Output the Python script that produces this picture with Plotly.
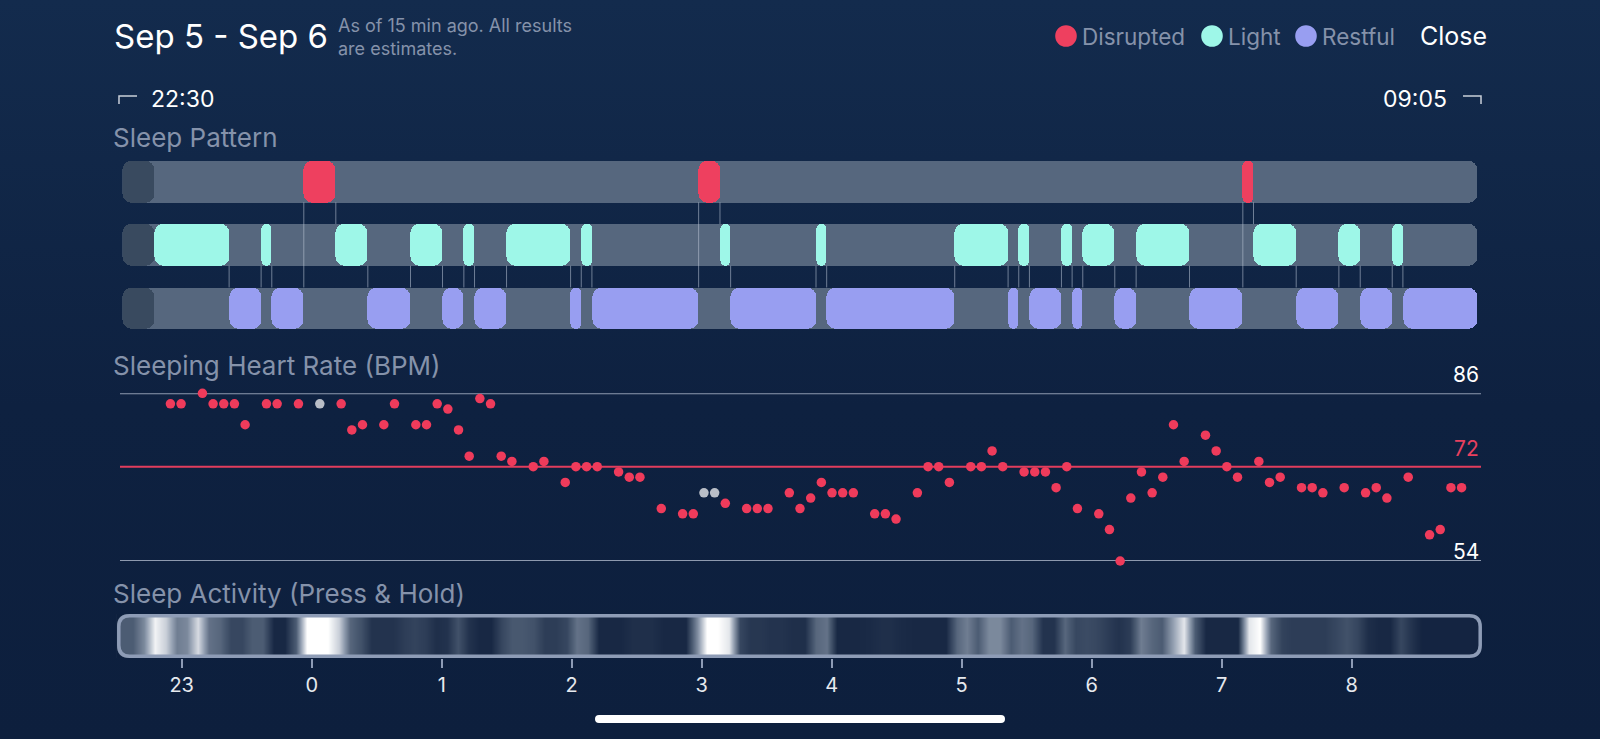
import base64
import plotly.graph_objects as go

W, H = 1600, 739

# ---------------- data ----------------
night_start = "22:30"
night_end = "09:05"

stage_starts = ["22:45", "23:20", "23:35", "23:40", "23:55", "00:10", "00:25", "00:45",
                "01:00", "01:10", "01:15", "01:30", "02:00", "02:05", "02:10", "03:00",
                "03:10", "03:15", "03:55", "04:00", "05:00", "05:25", "05:30", "05:35",
                "05:50", "05:55", "06:00", "06:15", "06:25", "06:50", "07:15", "07:20",
                "07:40", "08:00", "08:10", "08:25", "08:30"]
stage_names = ["Light", "Restful", "Light", "Restful", "Disrupted", "Light", "Restful", "Light",
               "Restful", "Light", "Restful", "Light", "Restful", "Light", "Restful", "Disrupted",
               "Light", "Restful", "Light", "Restful", "Light", "Restful", "Light", "Restful",
               "Light", "Restful", "Light", "Restful", "Light", "Restful", "Disrupted", "Light",
               "Restful", "Light", "Restful", "Light", "Restful"]

stage_order = ["Disrupted", "Light", "Restful"]
stage_colors = {"Disrupted": "#ee405f", "Light": "#9ef7e8", "Restful": "#989ef1"}
stage_rows = {"Disrupted": 2, "Light": 1, "Restful": 0}

# sleeping heart rate, one value per 5-minute bin (None = no reading)
hr_first_bin = "22:50"
hr_bin_minutes = 5
hr_bpm = [84, 84, None, 86, 84, 84, 84, 80, None, 84,
          84, None, 84, None, 84, None, 84, 79, 80, None,
          80, 84, None, 80, 80, 84, 83, 79, 74, 85,
          84, 74, 73, None, 72, 73, None, 69, 72, 72,
          72, None, 71, 70, 70, None, 64, None, 63, 63,
          67, 67, 65, None, 64, 64, 64, None, 67, 64,
          66, 69, 67, 67, 67, None, 63, 63, 62, None,
          67, 72, 72, 69, None, 72, 72, 75, 72, None,
          71, 71, 71, 68, 72, 64, None, 63, 60, 54,
          66, 71, 67, 70, 80, 73, None, 78, 75, 72,
          70, None, 73, 69, 70, None, 68, 68, 67, None,
          68, None, 67, 68, 66, None, 70, None, 59, 60,
          68, 68]
hr_gray_bins = [14, 50, 51]
hr_ref_lines = [86, 72, 54]

# sleep activity intensity (0..1), one value per 5-minute bin
activity_start = "22:30"
activity_bin_minutes = 5
activity_level = [0.30, 0.30, 0.50, 0.95, 0.80, 0.45, 0.50, 0.85, 0.40, 0.35,
                  0.20, 0.20, 0.30, 0.30, 0.05, 0.05, 0.30, 1.00, 1.00, 1.00,
                  0.80, 0.35, 0.25, 0.10, 0.10, 0.10, 0.15, 0.18, 0.15, 0.08,
                  0.10, 0.25, 0.10, 0.05, 0.05, 0.20, 0.28, 0.28, 0.25, 0.15,
                  0.15, 0.20, 0.40, 0.35, 0.05, 0.05, 0.05, 0.08, 0.08, 0.08,
                  0.05, 0.05, 0.05, 0.50, 1.00, 1.00, 0.90, 0.20, 0.12, 0.12,
                  0.10, 0.10, 0.08, 0.08, 0.35, 0.40, 0.05, 0.05, 0.05, 0.06,
                  0.08, 0.08, 0.06, 0.05, 0.05, 0.05, 0.05, 0.35, 0.45, 0.30,
                  0.50, 0.50, 0.30, 0.40, 0.35, 0.10, 0.10, 0.35, 0.20, 0.22,
                  0.20, 0.15, 0.10, 0.15, 0.45, 0.35, 0.30, 0.60, 0.90, 0.30,
                  0.05, 0.05, 0.05, 0.05, 0.90, 1.00, 0.35, 0.18, 0.15, 0.15,
                  0.15, 0.15, 0.20, 0.25, 0.20, 0.08, 0.05, 0.05, 0.20, 0.10,
                  0.03, 0.03, 0.03, 0.03, 0.03, 0.03]
activity_end = "09:00"

hour_ticks = [-1, 0, 1, 2, 3, 4, 5, 6, 7, 8]
hour_labels = ["23", "0", "1", "2", "3", "4", "5", "6", "7", "8"]

# ---------------- helpers ----------------
BG_TOP, BG_MID, BG_BOT = "#132b4d", "#0e2140", "#0d1f3d"
GREY_TXT = "#8592aa"
FONT = "Inter, Roboto, Liberation Sans, sans-serif"


def to_hours(hhmm):
    h, m = map(int, hhmm.split(":"))
    v = h + m / 60
    return v - 24 if h >= 12 else v


def fx(x):
    return x / W


def fy(y):
    return 1 - y / H


def P(x, y):
    return f"{fx(x):.5f},{fy(y):.5f}"


def rounded_rect(x0, y0, x1, y1, r):
    return (f"M {P(x0 + r, y0)} L {P(x1 - r, y0)} Q {P(x1, y0)} {P(x1, y0 + r)} "
            f"L {P(x1, y1 - r)} Q {P(x1, y1)} {P(x1 - r, y1)} L {P(x0 + r, y1)} "
            f"Q {P(x0, y1)} {P(x0, y1 - r)} L {P(x0, y0 + r)} Q {P(x0, y0)} {P(x0 + r, y0)} Z")


BAR_W = 0.658
RADIUS = 9

fig = go.Figure()


def add_pill_bars(starts, ends, rows, color):
    # bars with an explicit base get both ends rounded
    fig.add_trace(go.Bar(orientation="h", y=rows, base=starts,
                         x=[b - a for a, b in zip(starts, ends)], width=BAR_W,
                         marker=dict(color=color, line=dict(width=0), cornerradius=RADIUS),
                         hoverinfo="skip", showlegend=False, xaxis="x", yaxis="y"))


t_start = to_hours(night_start)
t_end = to_hours(night_end)
seg_start = [to_hours(s) for s in stage_starts]
seg_end = seg_start[1:] + [t_end]

# track backgrounds + dark lead-in cap before the first stage
rows_all = [stage_rows[s] for s in stage_order]
add_pill_bars([t_start] * 3, [t_end] * 3, rows_all, "#56677e")
add_pill_bars([t_start] * 3, [seg_start[0]] * 3, rows_all, "#394a5f")

# stage segments
for name in stage_order:
    idx = [i for i, s in enumerate(stage_names) if s == name]
    add_pill_bars([seg_start[i] for i in idx], [seg_end[i] for i in idx],
                  [stage_rows[name]] * len(idx), stage_colors[name])

# connector lines at every stage change
cx, cy = [], []
for i in range(1, len(stage_names)):
    a, b = stage_rows[stage_names[i - 1]], stage_rows[stage_names[i]]
    hi, lo = max(a, b), min(a, b)
    cx += [seg_start[i], seg_start[i], None]
    cy += [hi - BAR_W / 2, lo + BAR_W / 2, None]
fig.add_trace(go.Scatter(x=cx, y=cy, mode="lines", line=dict(color="rgba(190,200,216,0.55)", width=1),
                         hoverinfo="skip", showlegend=False, xaxis="x", yaxis="y"))

# heart rate
hr0 = to_hours(hr_first_bin)
hr_x = [hr0 + (i * hr_bin_minutes + hr_bin_minutes / 2) / 60 for i in range(len(hr_bpm))]
red_x = [x for i, (x, v) in enumerate(zip(hr_x, hr_bpm)) if v is not None and i not in hr_gray_bins]
red_y = [v for i, v in enumerate(hr_bpm) if v is not None and i not in hr_gray_bins]
gray_x = [hr_x[i] for i in hr_gray_bins]
gray_y = [hr_bpm[i] for i in hr_gray_bins]
fig.add_trace(go.Scatter(x=red_x, y=red_y, mode="markers", marker=dict(color="#ef3b5b", size=9.5),
                         cliponaxis=False, hoverinfo="skip", showlegend=False, xaxis="x", yaxis="y2"))
fig.add_trace(go.Scatter(x=gray_x, y=gray_y, mode="markers", marker=dict(color="#b9bec7", size=9.5),
                         cliponaxis=False, hoverinfo="skip", showlegend=False, xaxis="x", yaxis="y2"))

# sleep activity strip
a0 = to_hours(activity_start)
act_x = [a0 + (i * activity_bin_minutes + activity_bin_minutes / 2) / 60 for i in range(len(activity_level))]
fig.add_trace(go.Heatmap(x=act_x, y=[0, 1], z=[activity_level, activity_level], zmin=0, zmax=1,
                         zsmooth="best", showscale=False, hoverinfo="skip",
                         colorscale=[[0, "#0e1e3b"], [0.3, "#4c5c73"], [0.6, "#939fb1"], [1, "#ffffff"]],
                         xaxis="x2", yaxis="y3"))

# ---------------- layout ----------------
svg = (f'<svg xmlns="http://www.w3.org/2000/svg" width="{W}" height="{H}">'
       '<defs><linearGradient id="g" x1="0" y1="0" x2="0" y2="1">'
       f'<stop offset="0" stop-color="{BG_TOP}"/><stop offset="0.55" stop-color="{BG_MID}"/>'
       f'<stop offset="1" stop-color="{BG_BOT}"/></linearGradient></defs>'
       f'<rect width="{W}" height="{H}" fill="url(#g)"/></svg>')
bg_src = "data:image/svg+xml;base64," + base64.b64encode(svg.encode()).decode()

annotations = []


def text(x, y, s, size, color, anchor="left", **kw):
    annotations.append(dict(x=fx(x), y=fy(y), xref="paper", yref="paper", text=s, showarrow=False,
                            xanchor=anchor, yanchor="middle", align="left",
                            font=dict(family=FONT, size=size, color=color), **kw))


text(112, 36, "Sep 5 - Sep 6", 33, "#ffffff")
text(336, 37, "As of 15 min ago. All results<br>are estimates.", 18, GREY_TXT)
legend_pos = [(1066, 1080), (1212, 1226), (1306, 1320)]
for name, (cxp, tx) in zip(stage_order, legend_pos):
    text(tx, 36, name, 22.5, GREY_TXT)
text(1489, 36, "Close", 25, "#ffffff", anchor="right")
text(149, 99, night_start, 23, "#ffffff")
text(1449, 99, night_end, 23, "#ffffff", anchor="right")
text(111, 137, "Sleep Pattern", 26, GREY_TXT)
text(111, 365, "Sleeping Heart Rate (BPM)", 26, GREY_TXT)
text(111, 593, "Sleep Activity (Press & Hold)", 26, GREY_TXT)

for val, shift in zip(hr_ref_lines, [19, 18, 10]):
    annotations.append(dict(x=fx(1481), y=val, xref="paper", yref="y2", text=str(val), showarrow=False,
                            xanchor="right", yanchor="middle", yshift=shift,
                            font=dict(family=FONT, size=21,
                                      color="#e8405f" if val == 72 else "#ffffff")))

shapes = []
for name, (cxp, tx) in zip(stage_order, legend_pos):
    shapes.append(dict(type="circle", xref="paper", yref="paper", x0=fx(cxp - 10.8), x1=fx(cxp + 10.8),
                       y0=fy(36 - 10.8), y1=fy(36 + 10.8), fillcolor=stage_colors[name], line=dict(width=0)))
# time brackets
shapes.append(dict(type="path", xref="paper", yref="paper", path=f"M {P(119, 104)} L {P(119, 96)} L {P(137, 96)}",
                   line=dict(color="#c9cfd9", width=1.5)))
shapes.append(dict(type="path", xref="paper", yref="paper", path=f"M {P(1463, 96)} L {P(1481, 96)} L {P(1481, 104)}",
                   line=dict(color="#c9cfd9", width=1.5)))
# heart-rate reference lines
for val in hr_ref_lines:
    shapes.append(dict(type="line", xref="paper", yref="y2", x0=fx(120), x1=fx(1481), y0=val, y1=val,
                       layer="below", line=dict(color="#e23d5d" if val == 72 else "#8e9aaf", width=2)))
# activity strip corner masks + rounded border
sx0, sy0, sx1, sy1, sr = 117, 614, 1482, 658, 12
for (x0, y0, dx, dy) in [(sx0, sy0, 1, 1), (sx1, sy0, -1, 1), (sx0, sy1, 1, -1), (sx1, sy1, -1, -1)]:
    shapes.append(dict(type="path", xref="paper", yref="paper",
                       path=f"M {P(x0, y0)} L {P(x0 + dx * sr, y0)} Q {P(x0, y0)} {P(x0, y0 + dy * sr)} Z",
                       fillcolor=BG_BOT, line=dict(width=0)))
shapes.append(dict(type="path", xref="paper", yref="paper", path=rounded_rect(118.8, 615.8, 1480.2, 656.2, 11),
                   line=dict(color="#8e9cb6", width=3.5)))
# home indicator
shapes.append(dict(type="path", xref="paper", yref="paper", path=rounded_rect(595, 715, 1005, 723, 4),
                   fillcolor="#ffffff", line=dict(width=0)))

fig.update_layout(
    width=W, height=H, autosize=False,
    margin=dict(l=0, r=0, t=0, b=0),
    paper_bgcolor=BG_MID, plot_bgcolor="rgba(0,0,0,0)",
    barmode="overlay", bargap=0,
    showlegend=False,
    images=[dict(source=bg_src, xref="paper", yref="paper", x=0, y=1, sizex=1, sizey=1,
                 sizing="stretch", layer="below")],
    xaxis=dict(domain=[fx(122.4), fx(1477.6)], range=[t_start, t_end], visible=False, fixedrange=True),
    yaxis=dict(domain=[fy(340), fy(149.8)], range=[-0.5, 2.5], visible=False, fixedrange=True),
    yaxis2=dict(domain=[fy(561), fy(393.3)], range=[54, 86], anchor="x", visible=False, fixedrange=True),
    xaxis2=dict(domain=[fx(116.7), fx(1481.7)], range=[a0, to_hours(activity_end)], anchor="y3",
                tickmode="array", tickvals=hour_ticks, ticktext=hour_labels,
                ticks="outside", ticklen=9, tickwidth=2, tickcolor="#8e9cb6",
                tickfont=dict(family=FONT, size=20, color="#e6e9ee"),
                showgrid=False, zeroline=False, showline=False, fixedrange=True),
    yaxis3=dict(domain=[fy(658), fy(614)], range=[-0.5, 1.5], anchor="x2", visible=False, fixedrange=True),
    annotations=annotations,
    shapes=shapes,
)

# drop the browser's default 8px page margin so the figure fills the window
fig.write_html("out.html", config={"displayModeBar": False},
               post_script="document.body.style.margin='0';document.body.style.overflow='hidden';")
